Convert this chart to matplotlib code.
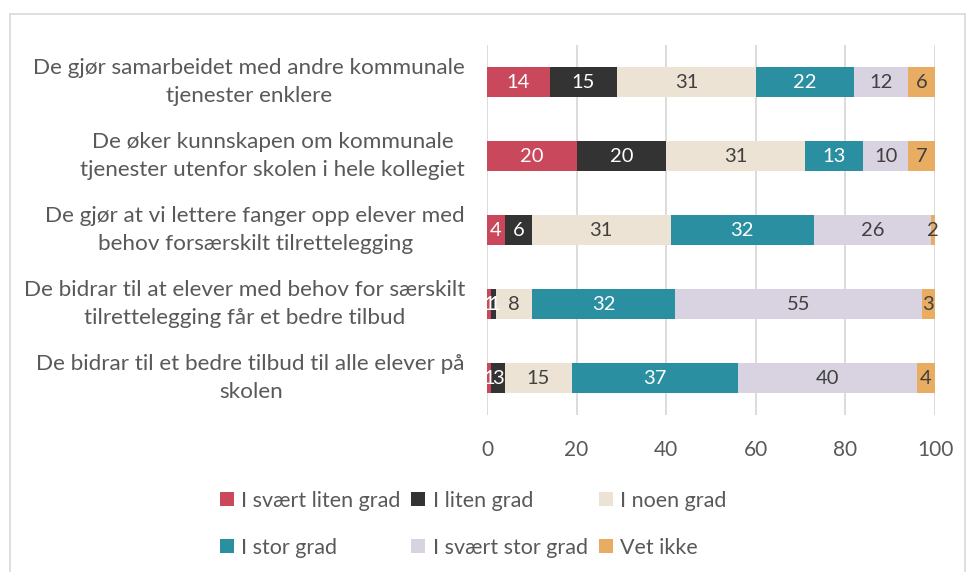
import matplotlib.pyplot as plt
from matplotlib.lines import Line2D

plt.rcParams['font.family'] = ['Lato', 'DejaVu Sans']

categories = [
    'De gjør samarbeidet med andre kommunale\ntjenester enklere',
    'De øker kunnskapen om kommunale\ntjenester utenfor skolen i hele kollegiet',
    'De gjør at vi lettere fanger opp elever med\nbehov forsærskilt tilrettelegging',
    'De bidrar til at elever med behov for særskilt\ntilrettelegging får et bedre tilbud',
    'De bidrar til et bedre tilbud til alle elever på\nskolen',
]
series_names = ['I svært liten grad', 'I liten grad', 'I noen grad',
                'I stor grad', 'I svært stor grad', 'Vet ikke']
svaert_liten = [14, 20, 4, 1, 1]
liten = [15, 20, 6, 1, 3]
noen = [31, 31, 31, 8, 15]
stor = [22, 13, 32, 32, 37]
svaert_stor = [12, 10, 26, 55, 40]
vet_ikke = [6, 7, 2, 3, 4]
ticks = [0, 20, 40, 60, 80, 100]

colors = ['#C9485B', '#333333', '#EDE3D5', '#2A8FA0', '#D9D3E1', '#E8AD62']
text_colors = ['white', 'white', '#404040', 'white', '#404040', '#404040']
label_color = '#595959'


def main():
    fig = plt.figure(figsize=(9.68, 5.72), dpi=100, facecolor='white')
    ax = fig.add_axes([487 / 968, 1 - 415 / 572, 448 / 968, 370 / 572])

    data = [svaert_liten, liten, noen, stor, svaert_stor, vet_ikke]
    ypos = list(range(len(categories)))
    left = [0] * len(categories)
    handles = []
    for name, vals, c, tc in zip(series_names, data, colors, text_colors):
        bars = ax.barh(ypos, vals, left=left, height=0.41, color=c,
                       label=name, zorder=3)
        ax.bar_label(bars, labels=[str(v) for v in vals], label_type='center',
                     color=tc, fontsize=14.5, zorder=4)
        handles.append(bars)
        left = [a + b for a, b in zip(left, vals)]

    ax.set_xlim(0, 100)
    ax.set_ylim(4.5, -0.5)
    ax.set_xticks(ticks)
    ax.set_yticks(ypos)
    ax.set_yticklabels([])
    ax.tick_params(axis='y', length=0)
    ax.tick_params(axis='x', length=0, pad=18, labelsize=15, labelcolor=label_color)
    ax.grid(axis='x', color='#D9D9D9', lw=1.3, zorder=0)
    for s in ax.spines.values():
        s.set_visible(False)

    # category labels: right-aligned block, lines centred
    for y, cat in zip(ypos, categories):
        ax.text(-22 / 448, y, cat, transform=ax.get_yaxis_transform(),
                ha='right', va='center', multialignment='center',
                fontsize=16.2, color=label_color, linespacing=1.5)

    order = [0, 3, 1, 4, 2, 5]
    fig.legend([handles[i] for i in order], [series_names[i] for i in order],
               ncol=3, loc='upper left', bbox_to_anchor=(211 / 968, 1 - 482 / 572),
               frameon=False, fontsize=15.5, labelcolor=label_color,
               handlelength=0.65, handleheight=0.65, handletextpad=0.35,
               columnspacing=0.5, labelspacing=1.25, borderaxespad=0)

    # chart frame
    fc = '#D9D9D9'
    top = 1 - 14 / 572
    fig.add_artist(Line2D([10 / 968, 10 / 968], [0, top], color=fc, lw=1.2))
    fig.add_artist(Line2D([10 / 968, 965 / 968], [top, top], color=fc, lw=1.2))
    fig.add_artist(Line2D([965 / 968, 965 / 968], [0, top], color=fc, lw=1.2))

    fig.savefig('out.png', dpi=100)


if __name__ == '__main__':
    main()
